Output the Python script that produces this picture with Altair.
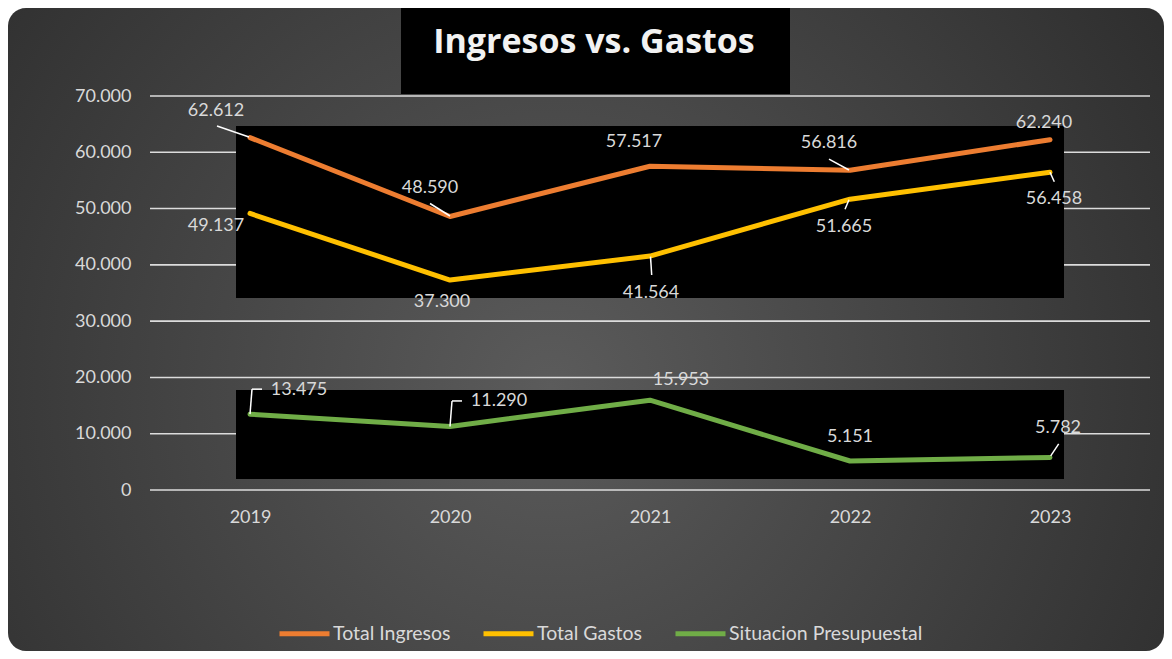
import altair as alt
import pandas as pd

# ---------------- data ----------------
years = [2019, 2020, 2021, 2022, 2023]
series = ["Total Ingresos", "Total Gastos", "Situacion Presupuestal"]
ingresos = [62612, 48590, 57517, 56816, 62240]
gastos = [49137, 37300, 41564, 51665, 56458]
situacion = [13475, 11290, 15953, 5151, 5782]
colors = ["#ED7D31", "#FFC000", "#70AD47"]
y_ticks = [0, 10000, 20000, 30000, 40000, 50000, 60000, 70000]
title_text = "Ingresos vs. Gastos"

# ---------------- layout ----------------
W, H = 1000, 394
YMAX = 70000
X0, X1 = 2018.5, 2023.5
YR_PER_PX = (X1 - X0) / W
VAL_PER_PX = YMAX / H
FONT = "Lato"
TXT = "#d9d9d9"

# data-label offsets in pixels (dx, dy) relative to each point
label_off = {
    "Total Ingresos": [(-34, -27), (-20, -29), (-16, -24), (-21, -27), (-6, -17)],
    "Total Gastos": [(-34, 13), (-8, 22), (1, 37), (-6, 28), (4, 27)],
    "Situacion Presupuestal": [(49, -24), (49, -25), (31, -20), (0, -24), (8, -29)],
}
# leader lines: (series, year index, polyline of pixel offsets from the point)
leaders = [
    ("Total Ingresos", 0, [(-33, -11.5), (-1, -0.6)]),
    ("Total Ingresos", 1, [(-20, -13), (0, -0.5)]),
    ("Total Ingresos", 3, [(-21, -11), (-1, -0.2)]),
    ("Total Gastos", 2, [(0.5, 0.6), (1.7, 19)]),
    ("Total Gastos", 3, [(-1, 0.5), (-5, 10)]),
    ("Total Gastos", 4, [(0, 0), (4.3, 9.5)]),
    ("Situacion Presupuestal", 0, [(0, 0), (2, -25), (12, -25)]),
    ("Situacion Presupuestal", 1, [(0, 0), (2, -25.5), (12, -25.5)]),
    ("Situacion Presupuestal", 4, [(0.7, -1.5), (8.7, -13.5)]),
]

values = {"Total Ingresos": ingresos, "Total Gastos": gastos, "Situacion Presupuestal": situacion}

rows = []
for s in series:
    for i, y in enumerate(years):
        v = values[s][i]
        dx, dy = label_off[s][i]
        rows.append({
            "year": y, "serie": s, "value": v,
            "label": f"{v:,}".replace(",", "."),
            "lx": y + dx * YR_PER_PX, "ly": v - dy * VAL_PER_PX,
        })
df = pd.DataFrame(rows)

seg_rows = []
for s, i, pts in leaders:
    y0, v0 = years[i], values[s][i]
    for (ax, ay), (bx, by) in zip(pts[:-1], pts[1:]):
        seg_rows.append({
            "x": y0 + ax * YR_PER_PX, "y": v0 - ay * VAL_PER_PX,
            "x2": y0 + bx * YR_PER_PX, "y2": v0 - by * VAL_PER_PX,
        })
seg = pd.DataFrame(seg_rows)
grid = pd.DataFrame({"v": y_ticks})
one = pd.DataFrame({"t": [title_text]})

xscale = alt.Scale(domain=[X0, X1], nice=False, zero=False)
yscale = alt.Scale(domain=[0, YMAX], nice=False)

card = alt.Chart(one).mark_rect(
    cornerRadius=18,
    color={
        "gradient": "radial",
        "x1": 0.47, "y1": 0.55, "r1": 0,
        "x2": 0.47, "y2": 0.55, "r2": 0.75,
        "stops": [
            {"offset": 0, "color": "#5b5b5b"},
            {"offset": 1, "color": "#252525"},
        ],
    },
).encode(x=alt.value(-142), x2=alt.value(1014), y=alt.value(-88), y2=alt.value(555))

gridlines = alt.Chart(grid).mark_rule(color="#dcdcdc", strokeWidth=1.6).encode(
    y=alt.Y("v:Q", scale=yscale, axis=alt.Axis(
        values=y_ticks, grid=False, domain=False, ticks=False, labelPadding=19,
        labelFont=FONT, labelFontSize=18, labelColor=TXT, zindex=1,
        labelExpr="replace(format(datum.value, ',d'), ',', '.')", title=None)),
    x=alt.value(0), x2=alt.value(W),
)

title_box = alt.Chart(one).mark_rect(color="black").encode(
    x=alt.value(251), x2=alt.value(640), y=alt.value(-88), y2=alt.value(-2))
box_top = alt.Chart(one).mark_rect(color="black").encode(
    x=alt.value(86), x2=alt.value(914), y=alt.value(30), y2=alt.value(202))
box_bot = alt.Chart(one).mark_rect(color="black").encode(
    x=alt.value(86), x2=alt.value(914), y=alt.value(294), y2=alt.value(383))

lines = alt.Chart(df).mark_line(strokeWidth=5, strokeCap="round", strokeJoin="round").encode(
    x=alt.X("year:Q", scale=xscale, axis=alt.Axis(
        values=years, format="d", grid=False, domain=False, ticks=False,
        labelPadding=18, labelFont=FONT, labelFontSize=18, labelColor=TXT,
        zindex=1, title=None)),
    y=alt.Y("value:Q", scale=yscale),
    color=alt.Color("serie:N", scale=alt.Scale(domain=series, range=colors),
                    sort=series,
                    legend=alt.Legend(
                        title=None, orient="none", legendX=127, legendY=510,
                        direction="horizontal", symbolType="stroke",
                        symbolStrokeWidth=5, symbolSize=2500, labelOffset=1,
                        columnPadding=22, labelFont=FONT, labelFontSize=19.5,
                        labelLimit=0, labelColor=TXT)),
    detail="serie:N",
)

leader_lines = alt.Chart(seg).mark_rule(color="white", strokeWidth=1.5).encode(
    x=alt.X("x:Q", scale=xscale), x2="x2:Q",
    y=alt.Y("y:Q", scale=yscale), y2="y2:Q",
)

labels = alt.Chart(df).mark_text(font=FONT, fontSize=18, color=TXT, baseline="middle").encode(
    x=alt.X("lx:Q", scale=xscale), y=alt.Y("ly:Q", scale=yscale), text="label:N")

title = alt.Chart(one).mark_text(font="Open Sans", fontSize=34, fontWeight="bold",
                                 color="#f2f2f2", baseline="middle").encode(
    x=alt.value(444), y=alt.value(-53), text="t:N")

chart = alt.layer(
    card, gridlines, title_box, box_top, box_bot, lines, leader_lines, labels, title
).properties(
    width=W, height=H,
    padding={"left": 142, "top": 88, "right": 14, "bottom": 161},
    autosize=alt.AutoSizeParams(type="none"),
    background="white",
).configure_view(stroke=None)

chart.save("out.html", embed_options={"renderer": "svg", "actions": False})
